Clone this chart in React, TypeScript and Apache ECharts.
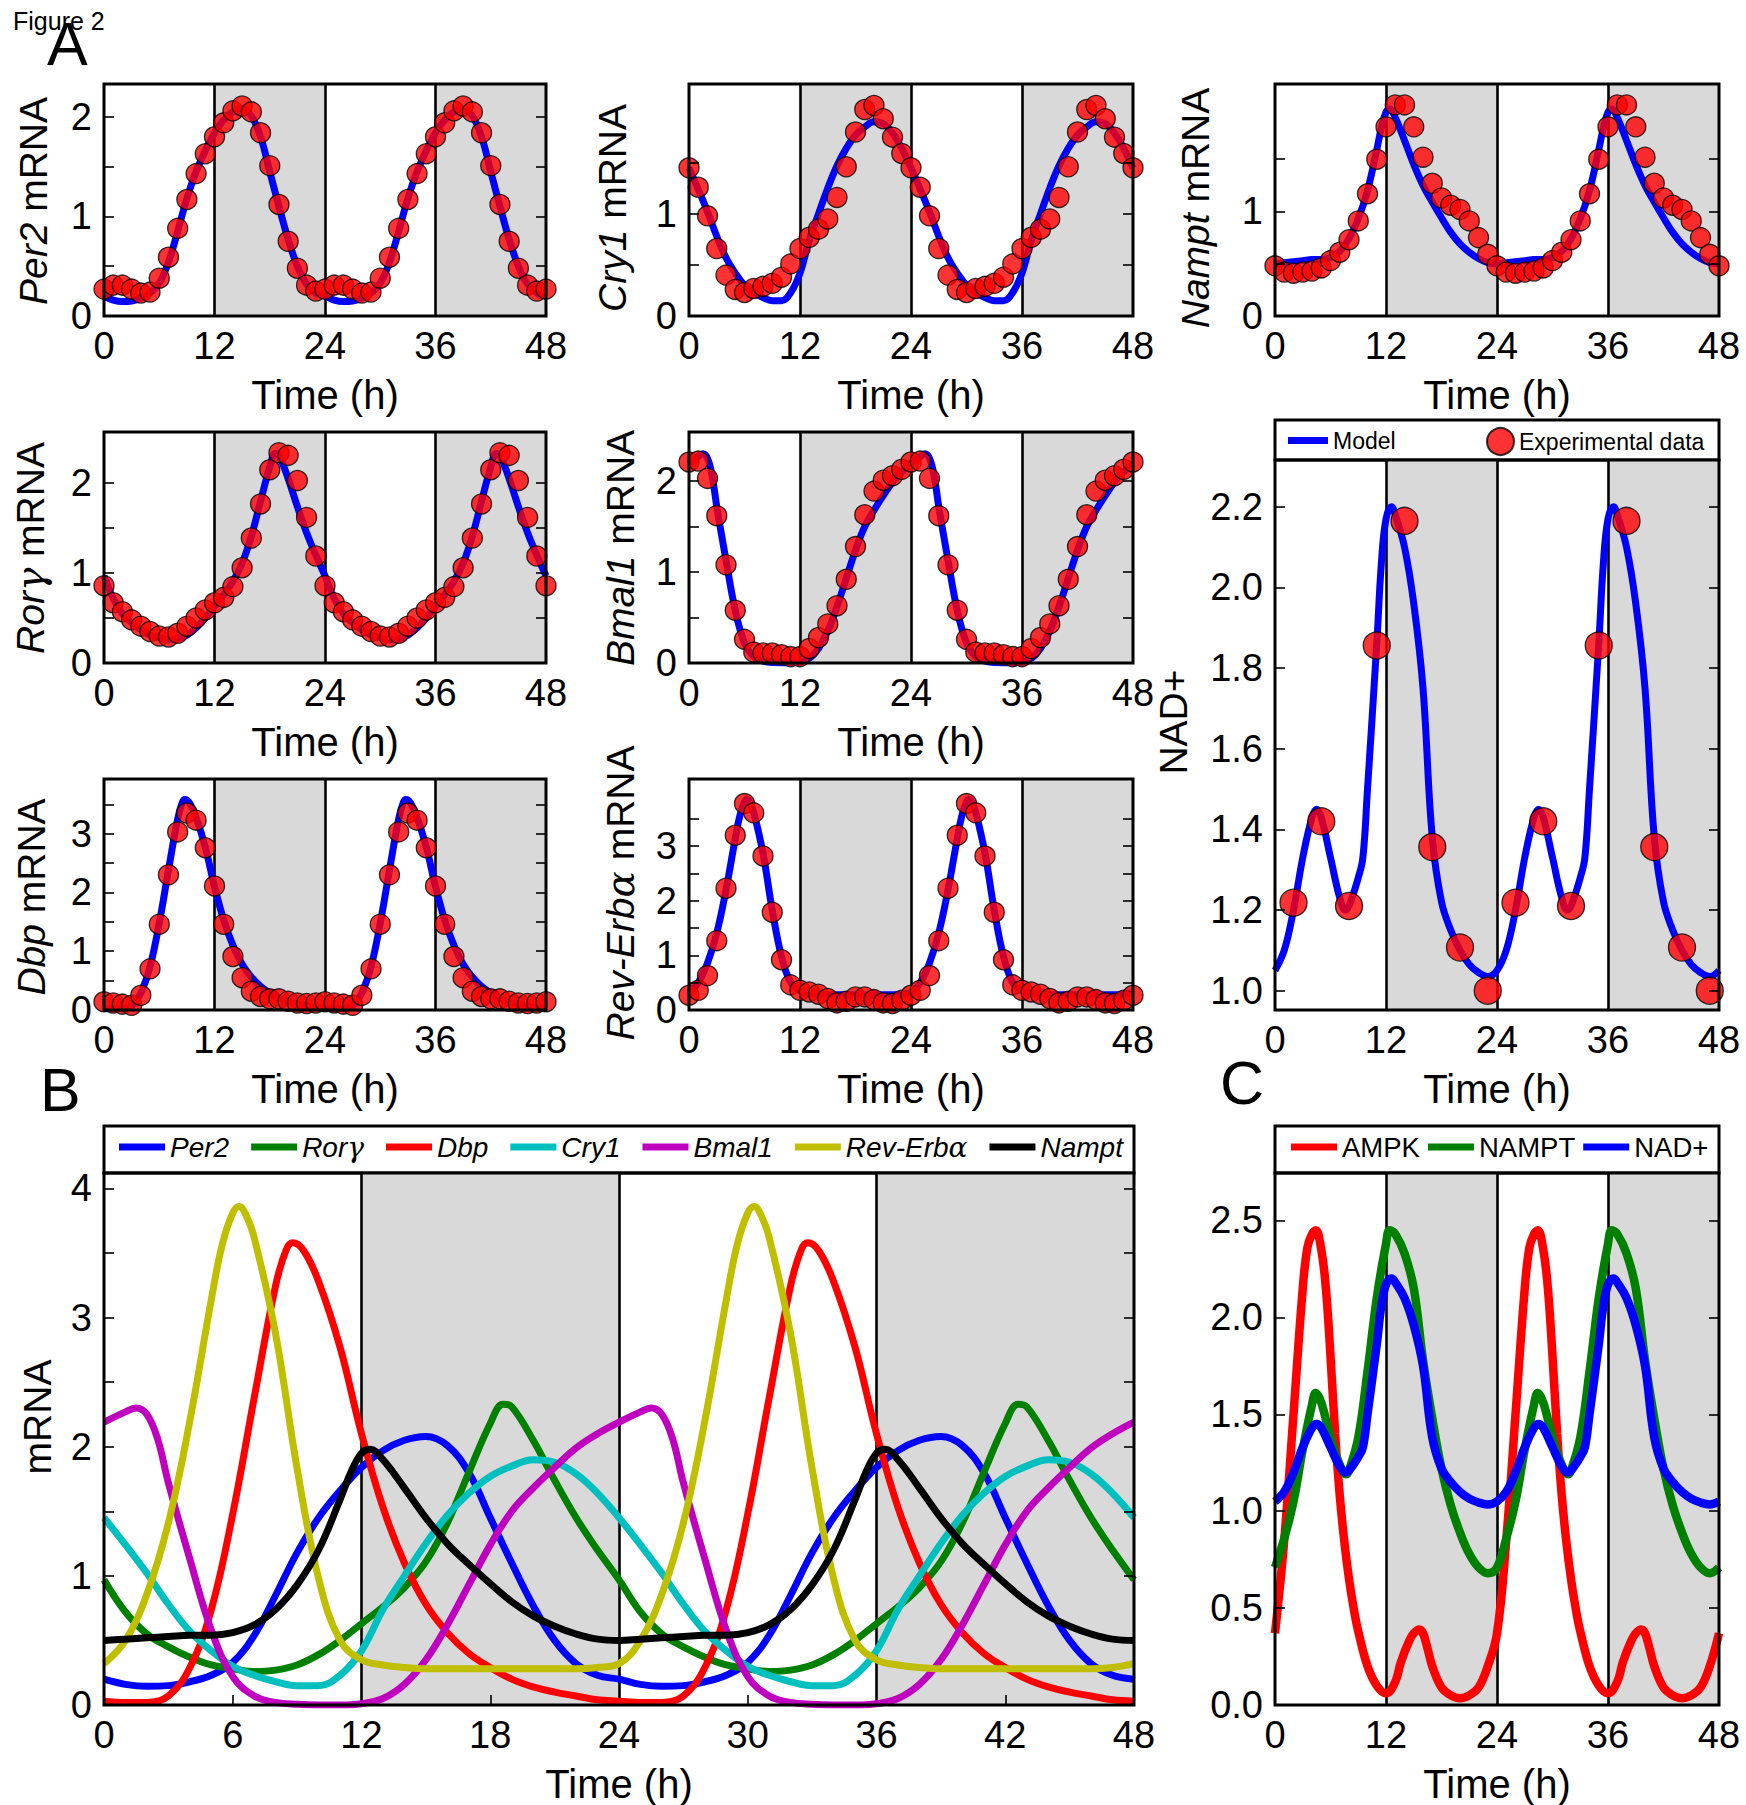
import { useEffect, useRef } from "react";
import * as echarts from "echarts";

const FONT = "'Liberation Sans', Arial, Helvetica, sans-serif";
const GREEK_FONT = "'DejaVu Serif', 'Liberation Serif', serif";

// ---------------- tick values / labels ----------------
const xLabelsA = [0, 12, 24, 36, 48];
const xLabelsB = [0, 6, 12, 18, 24, 30, 36, 42, 48];
const xTicksB = [6, 18, 30, 42];
const darkPeriods = [[12, 24], [36, 48]];
const dayLines = [12, 24, 36];

// ---------------- experimental data (hourly, one 24 h cycle h0..h23, shown twice) ----------------
const per2Exp = [0.27, 0.31, 0.31, 0.27, 0.23, 0.24, 0.38, 0.59, 0.88, 1.17, 1.43, 1.63, 1.8, 1.94, 2.06, 2.11, 2.05, 1.84, 1.51, 1.12, 0.75, 0.48, 0.31, 0.25];
const cry1Exp = [1.45, 1.26, 0.98, 0.66, 0.4, 0.26, 0.23, 0.27, 0.29, 0.32, 0.38, 0.51, 0.66, 0.77, 0.85, 0.95, 1.16, 1.46, 1.8, 2.02, 2.06, 1.93, 1.75, 1.59];
const namptExp = [0.48, 0.42, 0.41, 0.42, 0.43, 0.46, 0.53, 0.61, 0.73, 0.91, 1.17, 1.5, 1.81, 2.02, 2.02, 1.81, 1.52, 1.27, 1.13, 1.06, 1.02, 0.91, 0.75, 0.59];
const rorgExp = [0.86, 0.67, 0.57, 0.48, 0.41, 0.35, 0.3, 0.29, 0.33, 0.41, 0.5, 0.59, 0.67, 0.73, 0.85, 1.06, 1.39, 1.77, 2.15, 2.34, 2.31, 2.03, 1.62, 1.19];
const bmal1Exp = [2.21, 2.22, 2.03, 1.62, 1.08, 0.58, 0.26, 0.12, 0.11, 0.11, 0.09, 0.07, 0.07, 0.16, 0.28, 0.43, 0.63, 0.92, 1.28, 1.63, 1.89, 2.01, 2.06, 2.13];
const dbpExp = [0.14, 0.12, 0.1, 0.08, 0.25, 0.7, 1.46, 2.3, 3.03, 3.35, 3.23, 2.76, 2.11, 1.46, 0.91, 0.55, 0.32, 0.23, 0.19, 0.19, 0.15, 0.12, 0.11, 0.12];
const revErbExp = [0.27, 0.36, 0.63, 1.27, 2.23, 3.2, 3.78, 3.61, 2.82, 1.79, 0.92, 0.46, 0.36, 0.33, 0.29, 0.21, 0.13, 0.16, 0.24, 0.24, 0.19, 0.13, 0.12, 0.18];
const nadExp = [[2, 1.218], [5, 1.42], [8, 1.21], [11, 1.856], [14, 2.165], [17, 1.356], [20, 1.107], [23, 1.0]];

// ---------------- model curves ([hour, value], one cycle 0..24, shown twice) ----------------
const per2Model = [[0, 0.2], [1, 0.16], [2, 0.145], [3, 0.15], [4, 0.18], [5, 0.23], [6, 0.33], [7, 0.54], [8, 0.85], [9, 1.18], [10, 1.45], [11, 1.66], [12, 1.84], [13, 1.97], [14, 2.05], [15, 2.08], [16, 2.01], [17, 1.8], [18, 1.45], [19, 1.1], [20, 0.77], [21, 0.5], [22, 0.32], [23, 0.23], [24, 0.2]];
const cry1Model = [[0, 1.45], [1, 1.24], [2, 1.02], [3, 0.78], [4, 0.57], [5, 0.42], [6, 0.3], [7, 0.23], [8, 0.18], [9, 0.15], [10, 0.15], [11, 0.23], [12, 0.42], [13, 0.74], [14, 1.0], [15, 1.25], [16, 1.47], [17, 1.64], [18, 1.77], [19, 1.85], [20, 1.9], [21, 1.88], [22, 1.79], [23, 1.64], [24, 1.45]];
const namptModel = [[0, 0.5], [1, 0.51], [2, 0.52], [3, 0.53], [4, 0.54], [5, 0.54], [6, 0.56], [7, 0.62], [8, 0.74], [9, 0.93], [10, 1.2], [11, 1.59], [11.5, 1.8], [12, 1.95], [12.4, 1.98], [13, 1.9], [14, 1.68], [15, 1.45], [16, 1.25], [17, 1.09], [18, 0.94], [19, 0.8], [20, 0.69], [21, 0.61], [22, 0.55], [23, 0.51], [24, 0.5]];
const rorgModel = [[0, 0.97], [1, 0.72], [2, 0.55], [3, 0.45], [4, 0.37], [5, 0.31], [6, 0.28], [7, 0.26], [8, 0.27], [9, 0.31], [10, 0.39], [11, 0.5], [12, 0.63], [13, 0.76], [14, 0.91], [15, 1.11], [16, 1.41], [17, 1.8], [18, 2.18], [18.6, 2.33], [19, 2.31], [20, 2.05], [21, 1.74], [22, 1.45], [23, 1.2], [24, 0.97]];
const bmal1Model = [[0, 2.19], [1, 2.27], [1.5, 2.3], [2, 2.25], [2.5, 2.06], [3, 1.72], [4, 1.13], [5, 0.58], [6, 0.22], [7, 0.07], [8, 0.02], [9, 0.005], [10, 0], [11, 0], [12, 0.01], [13, 0.05], [14, 0.16], [15, 0.35], [16, 0.62], [17, 0.93], [18, 1.24], [19, 1.5], [20, 1.68], [21, 1.84], [22, 1.99], [23, 2.1], [24, 2.19]];
const dbpModel = [[0, 0.03], [1, 0.02], [2, 0.02], [3, 0.07], [4, 0.29], [5, 0.74], [6, 1.48], [7, 2.38], [8, 3.25], [8.5, 3.53], [8.8, 3.58], [9.3, 3.52], [10, 3.28], [11, 2.77], [12, 2.1], [13, 1.53], [14, 1.1], [15, 0.78], [16, 0.56], [17, 0.4], [18, 0.29], [19, 0.2], [20, 0.14], [21, 0.1], [22, 0.07], [23, 0.04], [24, 0.03]];
const revErbModel = [[0, 0.32], [1, 0.5], [2, 0.86], [3, 1.41], [4, 2.2], [5, 3.14], [5.5, 3.56], [6, 3.81], [6.3, 3.86], [6.6, 3.8], [7, 3.62], [8, 2.87], [9, 1.83], [10, 0.98], [11, 0.5], [12, 0.35], [13, 0.31], [14, 0.29], [15, 0.28], [16, 0.28], [17, 0.28], [18, 0.28], [19, 0.28], [20, 0.28], [21, 0.28], [22, 0.28], [23, 0.29], [24, 0.32]];
const nadModel = [[0, 1.05], [1, 1.1], [2, 1.2], [3, 1.33], [4, 1.43], [4.5, 1.45], [5, 1.43], [6, 1.33], [7, 1.23], [7.6, 1.2], [8, 1.21], [9, 1.28], [9.5, 1.33], [10, 1.5], [11, 1.86], [11.5, 2.06], [12, 2.17], [12.6, 2.2], [13, 2.18], [14, 2.1], [15, 1.96], [16, 1.75], [17, 1.38], [18, 1.22], [19, 1.15], [20, 1.1], [21, 1.065], [22, 1.045], [23, 1.035], [24, 1.05]];
const ampkModel = [[0, 0.37], [1, 0.85], [2, 1.5], [3, 2.15], [3.5, 2.36], [4, 2.43], [4.4, 2.45], [5, 2.35], [5.5, 2.15], [6, 1.8], [6.5, 1.4], [7, 1.08], [7.5, 0.84], [8, 0.65], [8.5, 0.5], [9, 0.38], [10, 0.2], [11, 0.1], [12, 0.06], [13, 0.12], [13.6, 0.22], [14.5, 0.33], [15, 0.37], [15.6, 0.39], [16, 0.37], [16.5, 0.29], [17, 0.2], [18, 0.09], [19, 0.05], [20, 0.035], [21, 0.05], [22, 0.09], [23, 0.2], [24, 0.37]];
const namptProtModel = [[0, 0.71], [1, 0.86], [2, 1.05], [3, 1.32], [4, 1.55], [4.4, 1.61], [5, 1.56], [6, 1.38], [7, 1.24], [7.7, 1.19], [8, 1.21], [9, 1.38], [10, 1.72], [11, 2.1], [12, 2.38], [12.4, 2.45], [13, 2.43], [14, 2.33], [15, 2.15], [16, 1.78], [17, 1.48], [18, 1.22], [19, 1.03], [20, 0.89], [21, 0.78], [22, 0.71], [23, 0.68], [24, 0.71]];

// ---------------- axis ranges & ticks per panel ----------------
const axesSpec = [
  { ymin: 0, ymax: 2.33, ticks: [0.5, 1, 1.5, 2], labels: [0, 1, 2], dec: 0 },
  { ymin: 0, ymax: 2.27, ticks: [0.5, 1, 1.5], labels: [0, 1], dec: 0 },
  { ymin: 0, ymax: 2.22, ticks: [0.5, 1, 1.5], labels: [0, 1], dec: 0 },
  { ymin: 0, ymax: 2.57, ticks: [0.5, 1, 1.5, 2], labels: [0, 1, 2], dec: 0 },
  { ymin: 0, ymax: 2.54, ticks: [0.5, 1, 1.5, 2], labels: [0, 1, 2], dec: 0 },
  { ymin: 0, ymax: 3.93, ticks: [0.5, 1, 1.5, 2, 2.5, 3, 3.5], labels: [0, 1, 2, 3], dec: 0 },
  { ymin: 0, ymax: 4.23, ticks: [0.5, 1, 1.5, 2, 2.5, 3, 3.5], labels: [0, 1, 2, 3], dec: 0 },
  { ymin: 0.952, ymax: 2.316, ticks: [1, 1.2, 1.4, 1.6, 1.8, 2, 2.2], labels: [1, 1.2, 1.4, 1.6, 1.8, 2, 2.2], dec: 1 },
  { ymin: 0, ymax: 4.12, ticks: [0.5, 1, 1.5, 2, 2.5, 3, 3.5, 4], labels: [0, 1, 2, 3, 4], dec: 0 },
  { ymin: 0, ymax: 2.745, ticks: [0.5, 1, 1.5, 2, 2.5], labels: [0, 0.5, 1, 1.5, 2, 2.5], dec: 1 },
];

// ---------------- layout (pixels) ----------------
const layout = [
  { left: 104, top: 84, width: 442, height: 232 },
  { left: 689, top: 84, width: 444, height: 232 },
  { left: 1275, top: 84, width: 444, height: 232 },
  { left: 104, top: 432, width: 442, height: 231 },
  { left: 689, top: 432, width: 444, height: 231 },
  { left: 104, top: 779, width: 442, height: 231 },
  { left: 689, top: 779, width: 444, height: 231 },
  { left: 1275, top: 460, width: 444, height: 550 },
  { left: 104, top: 1173, width: 1030, height: 532 },
  { left: 1275, top: 1173, width: 444, height: 532 },
];

const yTitles = [
  { text: "{i|Per2} mRNA", x: 33, y: 201 },
  { text: "{i|Cry1} mRNA", x: 612, y: 208 },
  { text: "{i|Nampt} mRNA", x: 1195, y: 208 },
  { text: "{i|Ror}{g|γ} mRNA", x: 30, y: 548 },
  { text: "{i|Bmal1} mRNA", x: 620, y: 548 },
  { text: "{i|Dbp} mRNA", x: 31, y: 897 },
  { text: "{i|Rev-Erb}{g|α} mRNA", x: 620, y: 893 },
  { text: "NAD+", x: 1173, y: 722 },
  { text: "mRNA", x: 37, y: 1417 },
];

const panelLetters = [
  { text: "A", x: 47, y: 44 },
  { text: "B", x: 40, y: 1090 },
  { text: "C", x: 1220, y: 1083 },
];

const aPanels = [
  { g: 0, model: per2Model, exp: per2Exp },
  { g: 1, model: cry1Model, exp: cry1Exp },
  { g: 2, model: namptModel, exp: namptExp },
  { g: 3, model: rorgModel, exp: rorgExp },
  { g: 4, model: bmal1Model, exp: bmal1Exp },
  { g: 5, model: dbpModel, exp: dbpExp },
  { g: 6, model: revErbModel, exp: revErbExp },
];

const bCurves = [
  { name: "Per2", color: "#0000ff", data: per2Model },
  { name: "Rorγ", color: "#008000", data: rorgModel },
  { name: "Dbp", color: "#ff0000", data: dbpModel },
  { name: "Cry1", color: "#00bfbf", data: cry1Model },
  { name: "Bmal1", color: "#bf00bf", data: bmal1Model },
  { name: "Rev-Erbα", color: "#bfbf00", data: revErbModel },
  { name: "Nampt", color: "#000000", data: namptModel },
];

const cCurves = [
  { name: "AMPK", color: "#ff0000", data: ampkModel },
  { name: "NAMPT", color: "#008000", data: namptProtModel },
  { name: "NAD+", color: "#0000ff", data: nadModel },
];

// periodic two-day arrangement of the one-cycle readings
const twoDays = (pts: number[][]) => [...pts, ...pts.slice(1).map(([h, v]) => [h + 24, v])];
const hourly = (vals: number[]) => Array.from({ length: 49 }, (_, h) => [h, vals[h % 24]]);
const twoDaysPts = (pts: number[][]) => [...pts, ...pts.map(([h, v]) => [h + 24, v])];

const greekRich = (name: string) => name.replace(/([γα])/g, "{g|$1}");

function buildOption() {
  const grid = layout.map((l) => ({
    ...l,
    show: true,
    borderColor: "#000",
    borderWidth: 3,
    backgroundColor: "rgba(0,0,0,0)",
    z: 5,
  }));

  const tickLine = { color: "#000", width: 1.6 };
  const labelStyle = { fontSize: 38, color: "#000", fontFamily: FONT };

  const xAxis = layout.map((_, g) => ({
    gridIndex: g,
    type: "value",
    min: 0,
    max: 48,
    axisLine: { show: false },
    axisTick: g === 8
      ? { show: true, inside: true, length: 10, lineStyle: tickLine, customValues: xTicksB }
      : { show: false },
    axisLabel: { show: true, customValues: g === 8 ? xLabelsB : xLabelsA, margin: 11, ...labelStyle },
    splitLine: { show: false },
    name: "Time (h)",
    nameLocation: "middle",
    nameGap: 59,
    nameTextStyle: { fontSize: 40, color: "#000", fontFamily: FONT },
    z: 6,
  }));

  const yAxis: any[] = [];
  axesSpec.forEach((a, g) => {
    yAxis.push({
      gridIndex: g,
      type: "value",
      position: "left",
      min: a.ymin,
      max: a.ymax,
      axisLine: { show: false },
      axisTick: { show: true, inside: true, length: 10, lineStyle: tickLine, customValues: a.ticks },
      axisLabel: {
        show: true,
        customValues: a.labels,
        margin: 12,
        ...labelStyle,
        formatter: (v: number) => (a.dec ? v.toFixed(a.dec) : String(Math.round(v * 100) / 100)),
      },
      splitLine: { show: false },
      z: 6,
    });
    yAxis.push({
      gridIndex: g,
      type: "value",
      position: "right",
      min: a.ymin,
      max: a.ymax,
      axisLine: { show: false },
      axisTick: { show: true, inside: true, length: 10, lineStyle: tickLine, customValues: a.ticks },
      axisLabel: { show: false },
      splitLine: { show: false },
      z: 6,
    });
  });

  const series: any[] = [];
  layout.forEach((_, g) => {
    const a = axesSpec[g];
    series.push({
      type: "line",
      xAxisIndex: g,
      yAxisIndex: 2 * g,
      data: [[0, a.ymin]],
      symbol: "none",
      lineStyle: { opacity: 0 },
      silent: true,
      z: 1,
      markArea: {
        silent: true,
        z: 1,
        itemStyle: { color: "#d9d9d9" },
        data: darkPeriods.map(([s, e]) => [{ xAxis: s }, { xAxis: e }]),
      },
    });
    series.push({
      type: "line",
      xAxisIndex: g,
      yAxisIndex: 2 * g,
      data: [[0, a.ymin]],
      symbol: "none",
      lineStyle: { opacity: 0 },
      silent: true,
      z: 2,
      markLine: {
        silent: true,
        z: 2,
        symbol: ["none", "none"],
        label: { show: false },
        lineStyle: { color: "#000", width: 2.6, type: "solid" },
        data: dayLines.map((h) => ({ xAxis: h })),
      },
    });
  });

  aPanels.forEach((p) => {
    series.push({
      type: "line",
      name: "Model",
      xAxisIndex: p.g,
      yAxisIndex: 2 * p.g,
      data: twoDays(p.model),
      smooth: 0.4,
      symbol: "none",
      color: "#0000ff",
      lineStyle: { color: "#0000ff", width: 7 },
      z: 3,
      silent: true,
    });
    series.push({
      type: "scatter",
      name: "Experimental data",
      xAxisIndex: p.g,
      yAxisIndex: 2 * p.g,
      data: hourly(p.exp),
      symbol: "circle",
      symbolSize: 20,
      itemStyle: { color: "#ff0000", borderColor: "#000", borderWidth: 1.3 },
      z: 4,
      silent: true,
    });
  });

  // NAD+ panel
  series.push({
    type: "line",
    name: "Model",
    xAxisIndex: 7,
    yAxisIndex: 14,
    data: twoDays(nadModel),
    smooth: 0.4,
    symbol: "none",
    color: "#0000ff",
    lineStyle: { color: "#0000ff", width: 7 },
    z: 3,
    silent: true,
  });
  series.push({
    type: "scatter",
    name: "Experimental data",
    xAxisIndex: 7,
    yAxisIndex: 14,
    data: twoDaysPts(nadExp),
    symbol: "circle",
    symbolSize: 27,
    itemStyle: { color: "#ff0000", borderColor: "#000", borderWidth: 1.3 },
    z: 4,
    silent: true,
  });

  bCurves.forEach((c) => {
    series.push({
      type: "line",
      name: c.name,
      xAxisIndex: 8,
      yAxisIndex: 16,
      data: twoDays(c.data),
      smooth: 0.4,
      symbol: "none",
      color: c.color,
      lineStyle: { color: c.color, width: 7 },
      z: 3,
      silent: true,
    });
  });

  cCurves.forEach((c) => {
    series.push({
      type: "line",
      name: c.name,
      xAxisIndex: 9,
      yAxisIndex: 18,
      data: twoDays(c.data),
      smooth: 0.4,
      symbol: "none",
      color: c.color,
      lineStyle: { color: c.color, width: 8.5 },
      z: 3,
      silent: true,
    });
  });

  const legendText = { color: "#000", fontFamily: FONT };
  const legend = [
    {
      data: [{ name: "Model", icon: "rect" }],
      left: 1288, top: 429, itemWidth: 40, itemHeight: 7, padding: 0, selectedMode: false,
      textStyle: { ...legendText, fontSize: 23 },
    },
    {
      data: [{ name: "Experimental data", icon: "circle" }],
      left: 1486, top: 427, itemWidth: 27, itemHeight: 27, padding: 0, selectedMode: false,
      textStyle: { ...legendText, fontSize: 23 },
    },
    {
      data: bCurves.map((c) => ({ name: c.name, icon: "rect" })),
      left: 119, top: 1133, itemWidth: 46, itemHeight: 7, itemGap: 22, padding: 0, selectedMode: false,
      formatter: (name: string) => greekRich(name),
      textStyle: {
        ...legendText,
        fontSize: 28,
        fontStyle: "italic",
        rich: { g: { fontFamily: GREEK_FONT, fontStyle: "italic", fontSize: 28, color: "#000" } },
      },
    },
    {
      data: cCurves.map((c) => ({ name: c.name, icon: "rect" })),
      left: 1291, top: 1133, itemWidth: 46, itemHeight: 7, itemGap: 8, padding: 0, selectedMode: false,
      textStyle: { ...legendText, fontSize: 27.5 },
    },
  ];

  const boxes = [
    { x: 1275, y: 420, w: 444, h: 40 },
    { x: 104, y: 1126, w: 1030, h: 47 },
    { x: 1275, y: 1126, w: 444, h: 47 },
  ];

  const graphic: any[] = [];
  boxes.forEach((b) =>
    graphic.push({
      type: "rect",
      silent: true,
      z: 1,
      shape: { x: b.x, y: b.y, width: b.w, height: b.h },
      style: { fill: "#fff", stroke: "#000", lineWidth: 3 },
    })
  );
  yTitles.forEach((t) =>
    graphic.push({
      type: "text",
      silent: true,
      x: t.x,
      y: t.y,
      rotation: Math.PI / 2,
      style: {
        text: t.text,
        fill: "#000",
        fontSize: 39,
        fontFamily: FONT,
        align: "center",
        verticalAlign: "middle",
        textAlign: "center",
        textVerticalAlign: "middle",
        rich: {
          i: { fontStyle: "italic", fontSize: 39, fontFamily: FONT, fill: "#000" },
          g: { fontStyle: "italic", fontSize: 39, fontFamily: GREEK_FONT, fill: "#000" },
        },
      },
    })
  );
  panelLetters.forEach((t) =>
    graphic.push({
      type: "text",
      silent: true,
      x: t.x,
      y: t.y,
      style: {
        text: t.text,
        fill: "#000",
        fontSize: 61,
        fontFamily: FONT,
        align: "left",
        verticalAlign: "middle",
        textAlign: "left",
        textVerticalAlign: "middle",
      },
    })
  );
  graphic.push({
    type: "text",
    silent: true,
    x: 13,
    y: 21,
    style: {
      text: "Figure 2",
      fill: "#000",
      fontSize: 25,
      fontFamily: FONT,
      align: "left",
      verticalAlign: "middle",
      textAlign: "left",
      textVerticalAlign: "middle",
    },
  });

  return {
    animation: false,
    backgroundColor: "#ffffff",
    grid,
    xAxis,
    yAxis,
    legend,
    graphic,
    series,
  };
}

export default function App() {
  const ref = useRef<HTMLDivElement>(null);
  useEffect(() => {
    if (!ref.current) return;
    const chart = echarts.init(ref.current, undefined, { renderer: "svg", width: 1746, height: 1805 });
    chart.setOption(buildOption() as any);
    return () => chart.dispose();
  }, []);
  return (
    <div
      ref={ref}
      style={{ position: "absolute", left: 0, top: 0, width: 1746, height: 1805, background: "#fff" }}
    />
  );
}
